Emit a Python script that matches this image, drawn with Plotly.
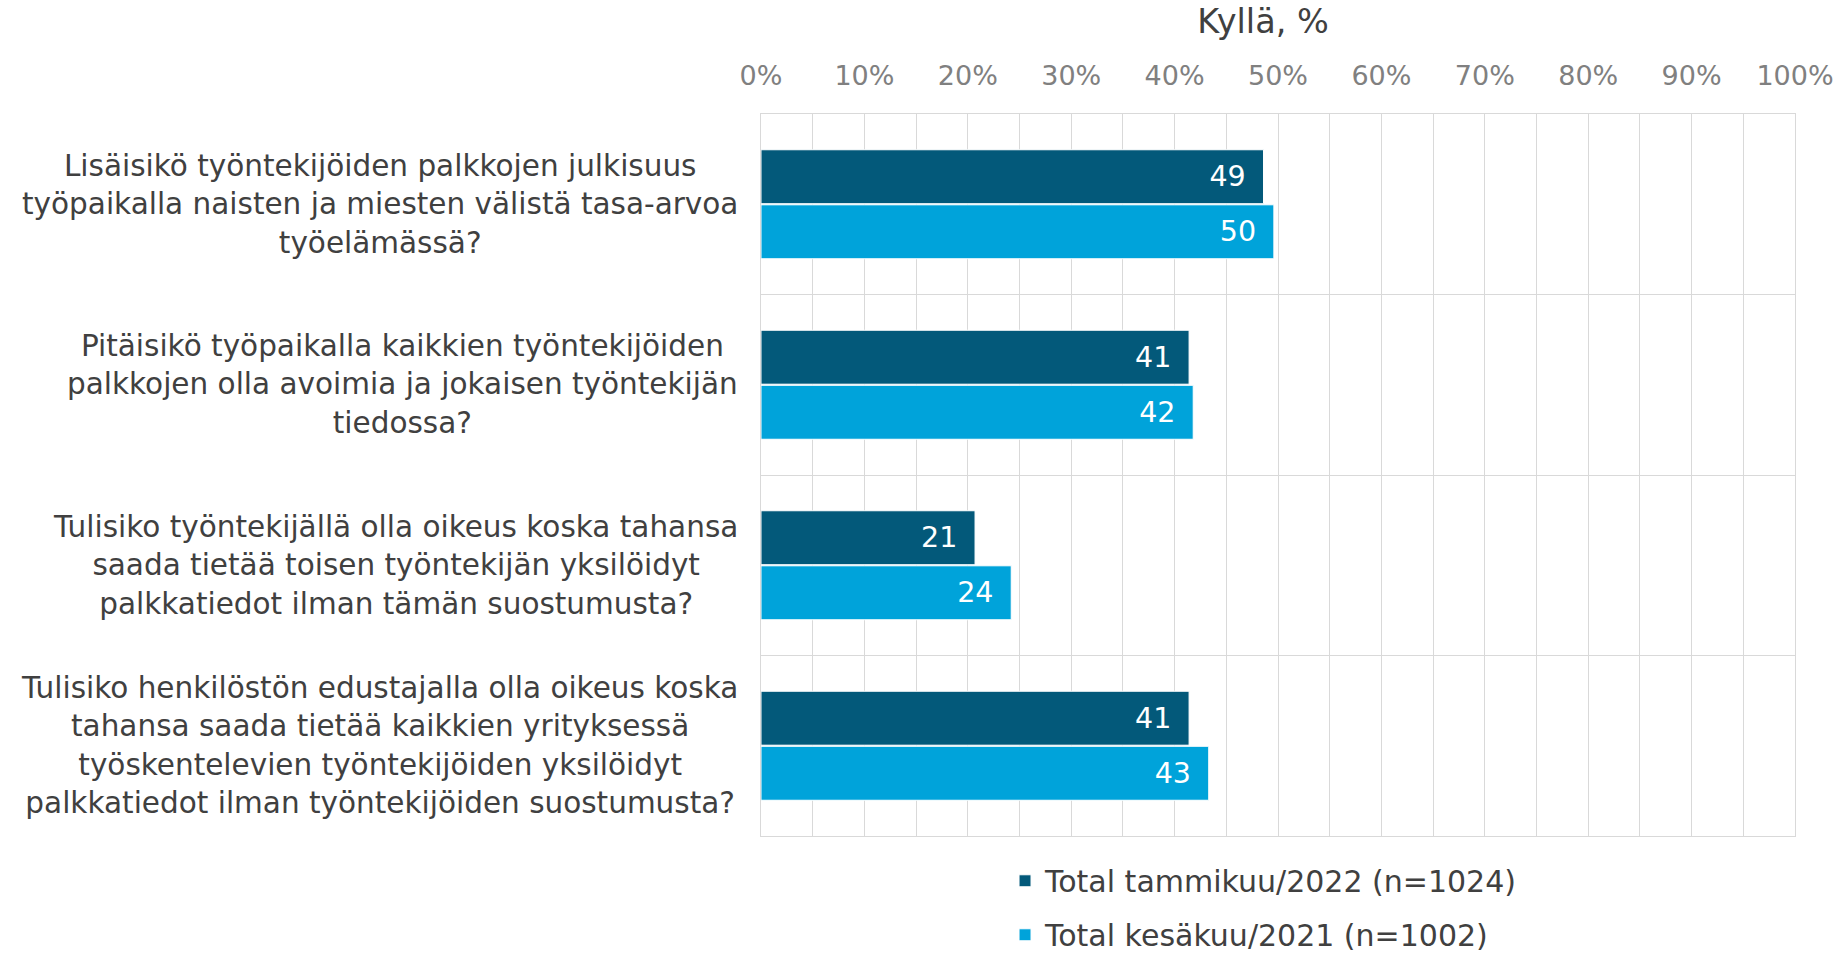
import plotly.graph_objects as go

questions = [
    "Lisäisikö työntekijöiden palkkojen julkisuus<br>työpaikalla naisten ja miesten välistä tasa-arvoa<br>työelämässä?",
    "Pitäisikö työpaikalla kaikkien työntekijöiden<br>palkkojen olla avoimia ja jokaisen työntekijän<br>tiedossa?",
    "Tulisiko työntekijällä olla oikeus koska tahansa<br>saada tietää toisen työntekijän yksilöidyt<br>palkkatiedot ilman tämän suostumusta?",
    "Tulisiko henkilöstön edustajalla olla oikeus koska<br>tahansa saada tietää kaikkien yrityksessä<br>työskentelevien työntekijöiden yksilöidyt<br>palkkatiedot ilman työntekijöiden suostumusta?",
]
series_2022_name = "Total tammikuu/2022 (n=1024)"
series_2021_name = "Total kesäkuu/2021 (n=1002)"
values_2022 = [48.6, 41.4, 20.7, 41.4]
values_2021 = [49.6, 41.8, 24.2, 43.3]
tick_vals = [0, 10, 20, 30, 40, 50, 60, 70, 80, 90, 100]
tick_text = ["0%", "10%", "20%", "30%", "40%", "50%", "60%", "70%", "80%", "90%", "100%"]

FONT = "DejaVu Sans"
DARK = "#03597A"
LIGHT = "#00A3DA"

fig = go.Figure()
for name, vals, col in [(series_2022_name, values_2022, DARK), (series_2021_name, values_2021, LIGHT)]:
    fig.add_trace(go.Bar(
        y=questions, x=vals, name=name, orientation="h",
        marker=dict(color=col, line=dict(color="white", width=1)),
        texttemplate="%{x:.0f}\u00a0\u2009", textposition="inside", insidetextanchor="end",
        textfont=dict(family=FONT, size=28.5, color="white"),
        legendgroup=name, hoverinfo="skip",
    ))

for q in questions:
    fig.add_annotation(
        x=0, xref="paper", y=q, yref="y", text=q, showarrow=False,
        xanchor="right", yanchor="middle", align="center", xshift=-21,
        font=dict(family=FONT, size=29.5, color="#404040"),
    )

fig.update_layout(
    width=1842, height=955,
    margin=dict(l=761, r=47, t=114, b=119, pad=0, autoexpand=False),
    paper_bgcolor="white", plot_bgcolor="white",
    barmode="group", bargap=0.39, bargroupgap=0.02,
    title=dict(text="Kyllä, %", x=1263 / 1842, xref="container", xanchor="center",
               y=1 - 21 / 955, yref="container", yanchor="middle",
               font=dict(family=FONT, size=33.5, color="#404040")),
    showlegend=True,
    legend=dict(orientation="v", x=0.236, xanchor="left", y=-0.026, yanchor="top",
                traceorder="grouped", tracegroupgap=12,
                font=dict(family=FONT, size=30, color="#404040")),
    uniformtext=dict(minsize=28, mode="show"),
)

fig.update_xaxes(
    side="top", range=[0, 100], tickmode="array", tickvals=tick_vals, ticktext=tick_text,
    tickfont=dict(family=FONT, size=27, color="#808080"),
    showgrid=True, gridcolor="#D9D9D9", gridwidth=1,
    minor=dict(dtick=5, showgrid=True, gridcolor="#D9D9D9", gridwidth=1),
    showline=True, mirror=True, linecolor="#D9D9D9", linewidth=1,
    zeroline=False, ticks="", ticklabelstandoff=17, fixedrange=True,
)
fig.update_yaxes(
    type="category", autorange="reversed", showticklabels=False,
    tickson="boundaries", showgrid=True, gridcolor="#D9D9D9", gridwidth=1,
    showline=True, mirror=True, linecolor="#D9D9D9", linewidth=1, ticks="",
    fixedrange=True,
)

fig.write_html("out.html", config={"displayModeBar": False},
               post_script="document.body.style.margin='0';")
